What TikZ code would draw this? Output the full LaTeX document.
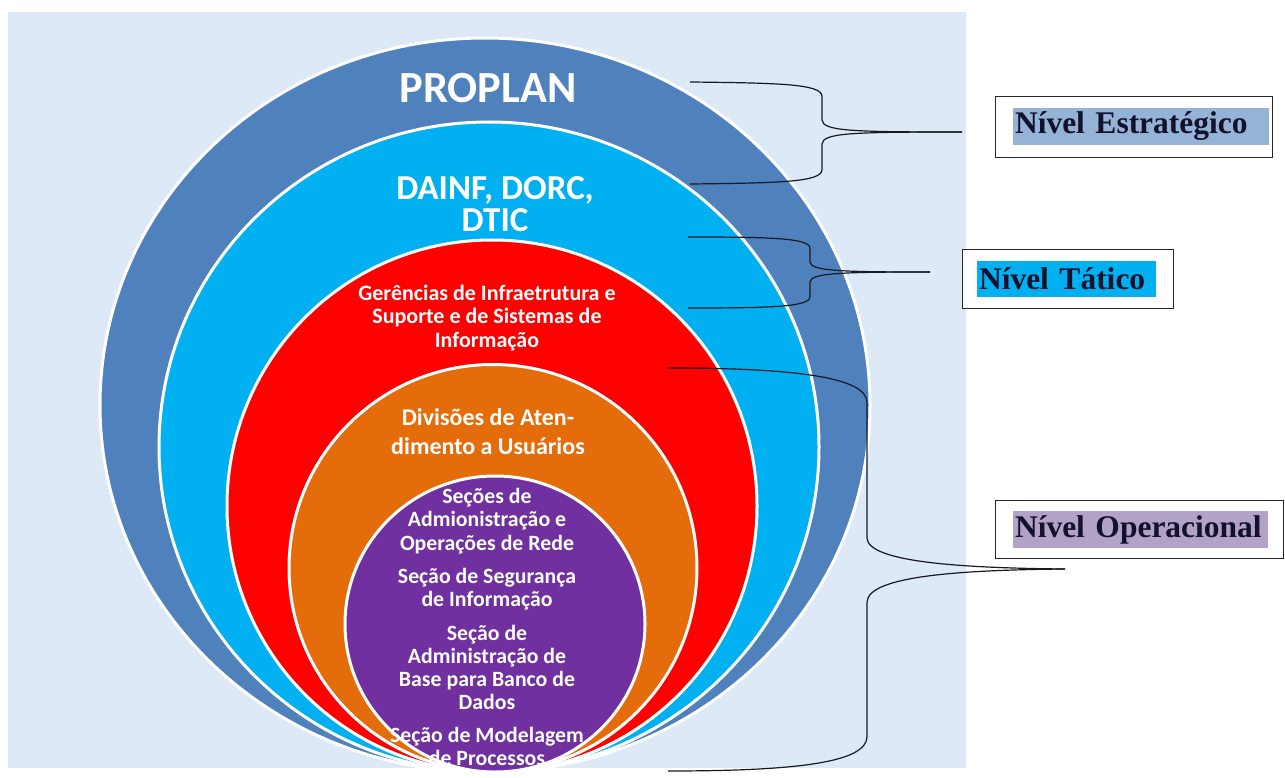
\documentclass[tikz,border=0pt]{standalone}
\usepackage{fontspec}
\setmainfont{Carlito}
\newfontfamily\levelfont{Liberation Serif}
\usetikzlibrary{shapes.geometric}

\definecolor{panelbg}{RGB}{221,233,246}
\definecolor{proplanblue}{RGB}{79,129,189}
\definecolor{dainfblue}{RGB}{0,176,240}
\definecolor{gerred}{RGB}{255,0,0}
\definecolor{divorange}{RGB}{228,108,10}
\definecolor{secpurple}{RGB}{112,48,160}
\definecolor{estcol}{RGB}{149,179,215}
\definecolor{taticol}{RGB}{0,176,240}
\definecolor{opcol}{RGB}{179,162,199}
\definecolor{bracecol}{RGB}{25,25,35}
\definecolor{levelink}{RGB}{18,18,45}

\tikzset{
  ring/.style={ellipse, draw=white, line width=3pt, inner sep=0pt},
  ringtext/.style={text=white, align=center, inner sep=0pt},
  levelbox/.style={draw=black!85, line width=1pt, fill=white, inner sep=0pt},
  levelmark/.style={inner xsep=2pt, inner ysep=0pt, align=left, text=levelink,
    font=\levelfont\bfseries\fontsize{31.5}{36}\selectfont},
  brace/.style={draw=bracecol, line width=1.2pt}
}

\begin{document}
\begin{tikzpicture}[x=1pt, y=-1pt]
  \useasboundingbox (0,0) rectangle (1285,778);
  \fill [panelbg] (8,12) rectangle (966,768);

  \node [ring, fill=proplanblue, minimum width=770pt, minimum height=734pt] (proplan) at (485,405) {};
  \node [ring, fill=dainfblue, minimum width=660pt, minimum height=650pt] (dainf) at (489,447) {};
  \node [ring, fill=gerred, minimum width=530pt, minimum height=532pt] (ger) at (492,506) {};
  \node [ring, fill=divorange, minimum width=408pt, minimum height=407pt] (div) at (493,568) {};
  \node [ring, fill=secpurple, minimum width=300pt, minimum height=296pt] (sec) at (495,624) {};

  \node [ringtext, font=\bfseries\fontsize{44.5}{50}\selectfont] (proplantxt) at (488,88) {PROPLAN};
  \node [ringtext, font=\bfseries\fontsize{35}{32}\selectfont] (dainftxt) at (495,204) {DAINF, DORC,\\DTIC};
  \node [ringtext, font=\bfseries\fontsize{22}{23.5}\selectfont] (gertxt) at (487,318)
    {Gerências de Infraetrutura e\\Suporte e de Sistemas de\\Informação};
  \node [ringtext, font=\bfseries\fontsize{24}{29}\selectfont] (divtxt) at (488,432)
    {Divisões de Aten-\\dimento a Usuários};
  \node [ringtext, font=\bfseries\fontsize{21.8}{23.3}\selectfont] (sectxt) at (487,627)
    {Seções de\\Admionistração e\\Operações de Rede\\[10pt]
     Seção de Segurança\\de Informação\\[10pt]
     Seção de\\Administração de\\Base para Banco de\\Dados\\[9pt]
     Seção de Modelagem\\de Processos};

  \node [levelbox, minimum width=277pt, minimum height=61pt] (estbox) at (1133.5,127.5) {};
  \node [levelmark, fill=estcol, text width=252pt, minimum height=37pt] (est) at (1141,126.5) {Nível Estratégico};
  \node [levelbox, minimum width=211pt, minimum height=59pt] (tatbox) at (1067.5,278.5) {};
  \node [levelmark, fill=taticol, text width=175pt, minimum height=36pt] (tat) at (1066.5,279) {Nível Tático};
  \node [levelbox, minimum width=288pt, minimum height=58pt] (opbox) at (1139,529) {};
  \node [levelmark, fill=opcol, text width=251pt, minimum height=37pt] (op) at (1140.5,529.5) {Nível Operacional};

  \coordinate (e1) at (690,82);
  \coordinate (e2) at (690,184);
  \coordinate (etip) at (962,132);
  \coordinate (t1) at (688,237);
  \coordinate (t2) at (688,308);
  \coordinate (ttip) at (930,272);
  \coordinate (o1) at (668,368);
  \coordinate (o2) at (668,771);
  \coordinate (otip) at (1065,569);

  \draw [brace] (e1) .. controls (780,83) and (821,84) .. (822,96) -- (822,120)
    .. controls (823,131) and (850,132) .. (etip);
  \draw [brace] (e2) .. controls (780,183) and (821,182) .. (822,170) -- (822,144)
    .. controls (823,133) and (850,132) .. (etip);
  \draw [brace] (t1) .. controls (770,237) and (809,238) .. (810,248) -- (810,262)
    .. controls (811,271) and (840,272) .. (ttip);
  \draw [brace] (t2) .. controls (770,308) and (809,307) .. (810,297) -- (810,282)
    .. controls (811,273) and (840,272) .. (ttip);
  \draw [brace] (o1) .. controls (800,368) and (866,378) .. (867,402) -- (867,538)
    .. controls (868,562) and (960,568) .. (otip);
  \draw [brace] (o2) .. controls (800,771) and (866,762) .. (867,737) -- (867,602)
    .. controls (868,576) and (960,570) .. (otip);
\end{tikzpicture}
\end{document}
